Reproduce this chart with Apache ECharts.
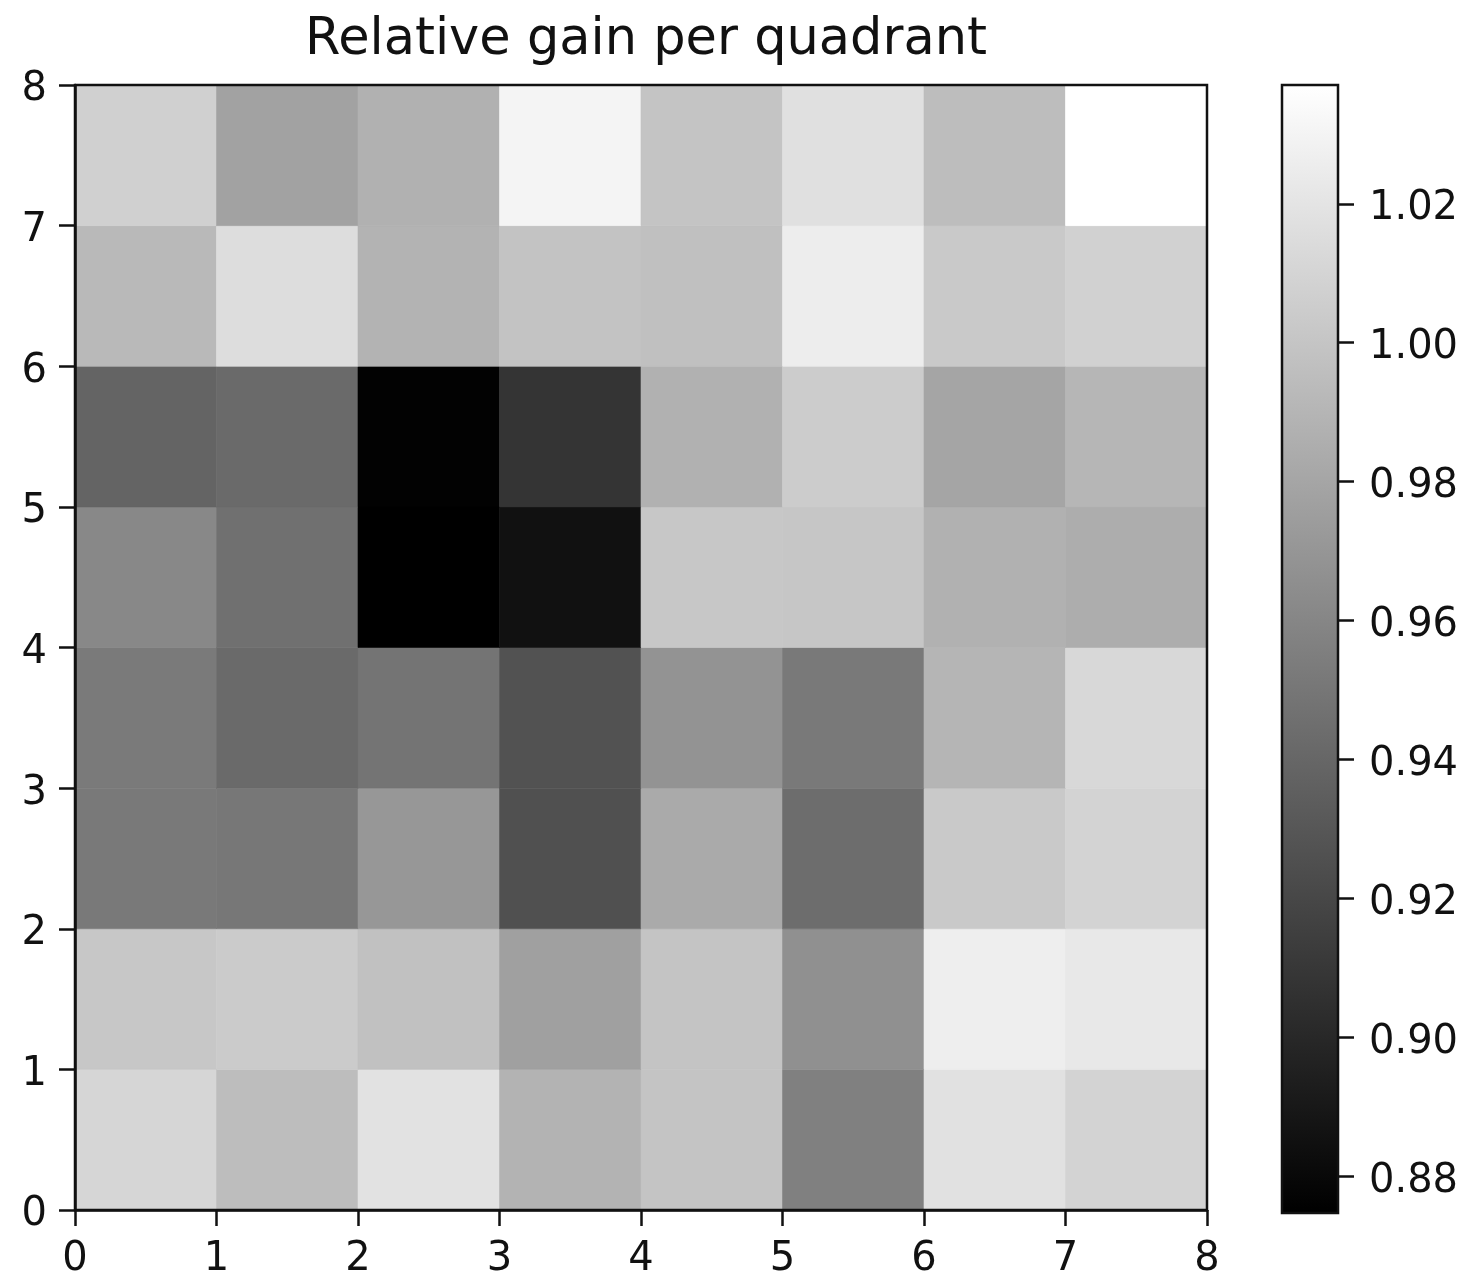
<!DOCTYPE html>
<html>
<head>
<meta charset="utf-8">
<script src="https://cdn.jsdelivr.net/npm/echarts@6/dist/echarts.min.js"></script>
<style>html,body{margin:0;padding:0;background:#fff;}#c{width:1471px;height:1280px;}</style>
</head>
<body>
<div id="c"></div>
<script>
// Rows listed from bottom (y 0-1) to top (y 7-8); columns x 0..7
const row0 = [1.0110, 0.9951, 1.0186, 0.9887, 0.9995, 0.9562, 1.0180, 1.0091];
const row1 = [1.0014, 1.0040, 0.9976, 0.9766, 0.9995, 0.9664, 1.0263, 1.0225];
const row2 = [0.9518, 0.9505, 0.9709, 0.9256, 0.9830, 0.9441, 1.0027, 1.0091];
const row3 = [0.9524, 0.9422, 0.9486, 0.9269, 0.9683, 0.9518, 0.9900, 1.0123];
const row4 = [0.9613, 0.9460, 0.8747, 0.8855, 1.0014, 1.0008, 0.9874, 0.9849];
const row5 = [0.9384, 0.9422, 0.8760, 0.9078, 0.9874, 1.0046, 0.9798, 0.9906];
const row6 = [0.9925, 1.0154, 0.9887, 0.9989, 0.9970, 1.0256, 1.0027, 1.0078];
const row7 = [1.0072, 0.9779, 0.9874, 1.0301, 0.9995, 1.0174, 0.9951, 1.0371];
const rows = [row0, row1, row2, row3, row4, row5, row6, row7];
const axisTicks = [0, 1, 2, 3, 4, 5, 6, 7, 8];
const colorbarTicks = [0.88, 0.90, 0.92, 0.94, 0.96, 0.98, 1.00, 1.02];
const titleText = 'Relative gain per quadrant';

const cells = [];
rows.forEach((r, y) => r.forEach((v, x) => cells.push([x, y, v])));
let vmin = Infinity, vmax = -Infinity;
cells.forEach(c => { vmin = Math.min(vmin, c[2]); vmax = Math.max(vmax, c[2]); });

const FONT = 'DejaVu Sans';
const richLbl = { a: { fontFamily: FONT, fontSize: 40, color: '#111', padding: [10, 0, 0, 0] } };
const chart = echarts.init(document.getElementById('c'));
chart.setOption({
  animation: false,
  backgroundColor: '#fff',
  title: {
    text: titleText, left: 641, textAlign: 'center', top: 10,
    textStyle: { fontFamily: FONT, fontSize: 51, fontWeight: 'normal', color: '#111' }
  },
  grid: [
    { z: 5, left: 75, top: 85, width: 1132, height: 1128, show: true, borderColor: '#111', borderWidth: 2.5, backgroundColor: 'transparent', containLabel: false },
    { z: 5, left: 1282, top: 85, width: 56, height: 1128, show: true, borderColor: '#111', borderWidth: 2.5, backgroundColor: 'transparent', containLabel: false }
  ],
  xAxis: [
    { type: 'value', gridIndex: 0, min: 0, max: 8, interval: 1, splitLine: { show: false }, z: 6,
      axisLine: { show: true, onZero: false, lineStyle: { color: '#111', width: 2.5 } },
      axisTick: { show: true, length: 16, lineStyle: { color: '#111', width: 2.5 } },
      axisLabel: { show: true, margin: 30, fontFamily: FONT, fontSize: 40, color: '#111', customValues: axisTicks, formatter: v => String(v) } },
    { type: 'value', gridIndex: 1, min: 0, max: 1, show: false }
  ],
  yAxis: [
    { type: 'value', gridIndex: 0, min: 0, max: 8, interval: 1, splitLine: { show: false }, z: 6,
      axisLine: { show: true, onZero: false, lineStyle: { color: '#111', width: 2.5 } },
      axisTick: { show: true, length: 16, lineStyle: { color: '#111', width: 2.5 } },
      axisLabel: { show: true, margin: 28, customValues: axisTicks, formatter: v => '{a|' + v + '}', rich: richLbl } },
    { type: 'value', gridIndex: 1, min: vmin, max: vmax, position: 'right', splitLine: { show: false }, z: 6,
      axisLine: { show: false, onZero: false },
      axisTick: { show: true, length: 16, customValues: colorbarTicks, lineStyle: { color: '#111', width: 2.5 } },
      axisLabel: { show: true, margin: 31, customValues: colorbarTicks, formatter: v => '{a|' + v.toFixed(2) + '}', rich: richLbl } }
  ],
  visualMap: {
    show: false, type: 'continuous', seriesIndex: 0, dimension: 2,
    min: vmin, max: vmax, inRange: { color: ['#000000', '#ffffff'] }
  },
  series: [
    {
      type: 'custom', xAxisIndex: 0, yAxisIndex: 0, data: cells, z: 1,
      renderItem: (params, api) => {
        const x = api.value(0), y = api.value(1);
        const p0 = api.coord([x, y + 1]);
        const p1 = api.coord([x + 1, y]);
        const col = api.visual('color');
        return { type: 'rect', shape: { x: p0[0], y: p0[1], width: p1[0] - p0[0], height: p1[1] - p0[1] },
          style: { fill: col, stroke: col, lineWidth: 0.6 } };
      }
    },
    {
      type: 'custom', xAxisIndex: 1, yAxisIndex: 1, data: [[0, vmin, vmax]], z: 1,
      renderItem: (params, api) => {
        const p0 = api.coord([0, api.value(2)]);
        const p1 = api.coord([1, api.value(1)]);
        return { type: 'rect', shape: { x: p0[0], y: p0[1], width: p1[0] - p0[0], height: p1[1] - p0[1] },
          style: { fill: new echarts.graphic.LinearGradient(0, 0, 0, 1, [{ offset: 0, color: '#ffffff' }, { offset: 1, color: '#000000' }]) } };
      }
    }
  ]
});
</script>
</body>
</html>
